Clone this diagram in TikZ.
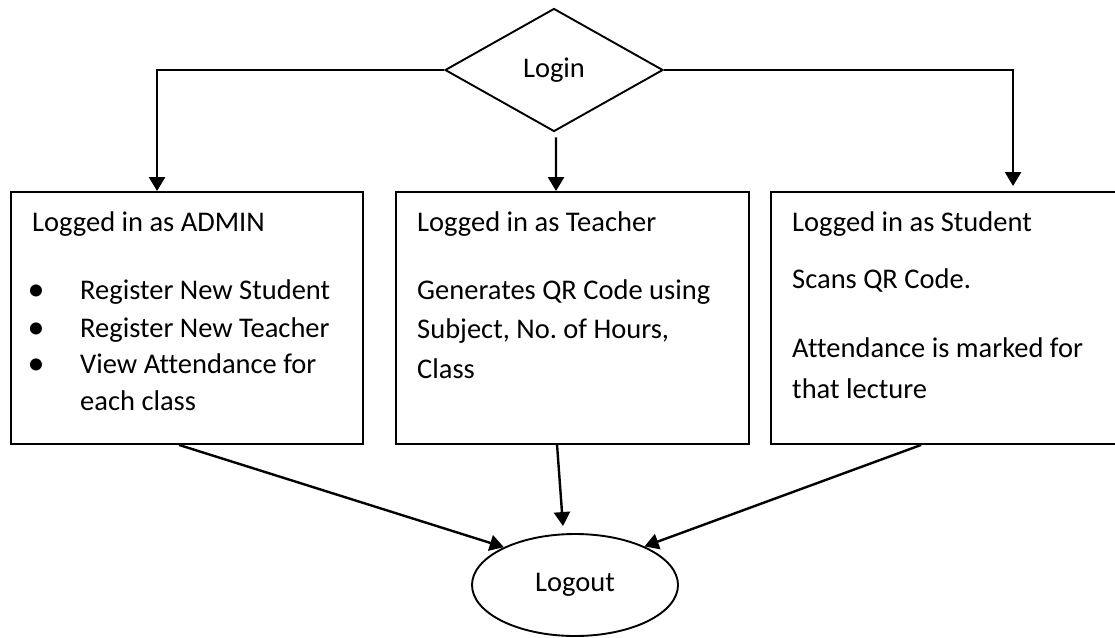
\documentclass[tikz,border=0pt]{standalone}
\usepackage{fontspec}
\setmainfont{Carlito}[Ligatures={NoCommon}]
\frenchspacing
\usetikzlibrary{shapes.geometric,arrows.meta}
\tikzset{
  boxnode/.style={draw=black,line width=1.9pt,rectangle,inner sep=0pt},
  txt/.style={anchor=base west,inner sep=0pt,font=\fontsize{28.5}{32}\selectfont},
  bul/.style={anchor=base,inner sep=0pt,font=\fontsize{34}{32}\selectfont},
  arr/.style={line width=2.4pt,-{Triangle[length=14pt,width=16pt]}},
}
\begin{document}
\begin{tikzpicture}[x=1pt,y=-1pt]
\useasboundingbox (0,0) rectangle (1115,637);
% Login diamond
\node[diamond,draw,line width=1.9pt,minimum width=218pt,minimum height=123pt,inner sep=0pt,
  font=\fontsize{28.5}{32}\selectfont] (login) at (554,70) {Login};
% Boxes
\node[boxnode,minimum width=352pt,minimum height=252pt] (admin) at (187,318) {};
\node[boxnode,minimum width=353pt,minimum height=252pt] (teacher) at (572.5,318) {};
\node[boxnode,minimum width=348pt,minimum height=252pt] (student) at (945,318) {};
% Logout ellipse
\node[ellipse,draw,line width=1.9pt,minimum width=206pt,minimum height=102pt,inner sep=0pt,
  font=\fontsize{28.5}{32}\selectfont] (logout) at (575,585) {Logout};
% Admin text
\node[txt] (a0) at (32,231) {Logged in as ADMIN};
\node[bul] (b1) at (36,300) {•};
\node[bul] (b2) at (36,338) {•};
\node[bul] (b3) at (36,374) {•};
\node[txt] (a1) at (80,299) {Register New Student};
\node[txt] (a2) at (80,337) {Register New Teacher};
\node[txt] (a3) at (80,373) {View Attendance for};
\node[txt] (a4) at (80,410) {each class};
% Teacher text
\node[txt] (c0) at (417,231) {Logged in as Teacher};
\node[txt] (c1) at (417,299) {Generates QR Code using};
\node[txt] (c2) at (417,338) {Subject, No. of Hours,};
\node[txt] (c3) at (417,378) {Class};
% Student text
\node[txt] (s0) at (792,231) {Logged in as Student};
\node[txt] (s1) at (792,288) {Scans QR Code.};
\node[txt] (s2) at (792,357) {Attendance is marked for};
\node[txt] (s3) at (792,398) {that lecture};
% Connectors from Login
\draw[arr] (login.west) -| ([xshift=147pt]admin.north west);
\draw[arr] ([xshift=2pt,yshift=-5pt]login.south) -- ([xshift=161pt]teacher.north west);
\draw[arr] (login.east) -| ([xshift=243pt,yshift=5pt]student.north west);
% Connectors to Logout
\draw[arr] ([xshift=169pt]admin.south west) -- (logout.152);
\draw[arr] ([xshift=162pt]teacher.south west) -- ([xshift=-12pt,yshift=7pt]logout.north);
\draw[arr] ([xshift=151pt]student.south west) -- (logout.29);
\end{tikzpicture}
\end{document}
